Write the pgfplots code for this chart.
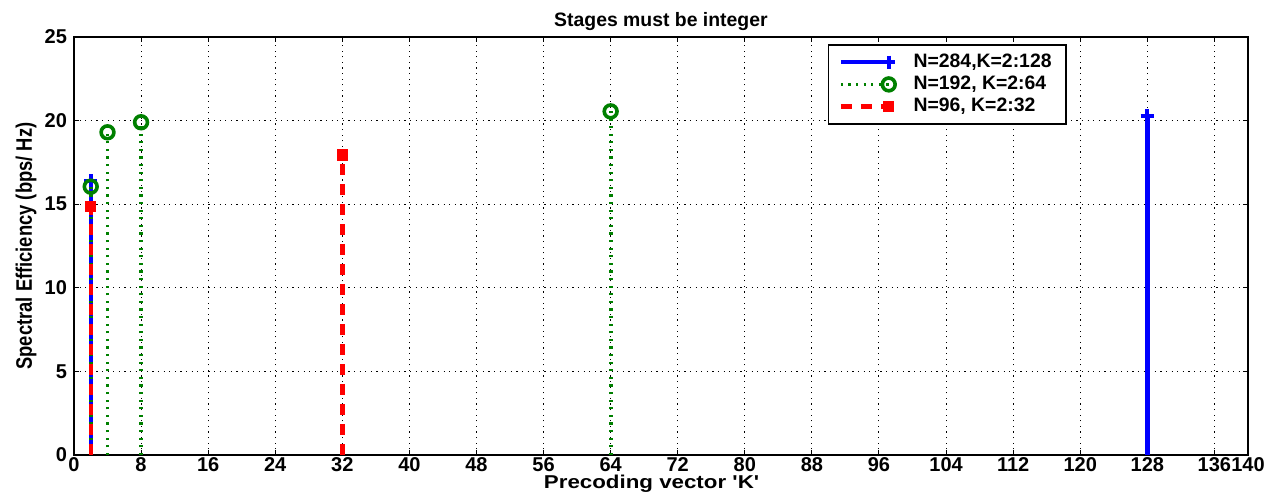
\documentclass[border=0pt]{standalone}
\usepackage{pgfplots}
\pgfplotsset{compat=1.18}
\usepackage{fontspec}
\setmainfont{Liberation Sans}
\definecolor{mblue}{RGB}{0,0,255}
\definecolor{mgreen}{RGB}{0,128,0}
\definecolor{mred}{RGB}{255,0,0}
\begin{document}
\begin{tikzpicture}
\begin{axis}[
  width=587pt, height=209pt, scale only axis,
  xmin=0, xmax=140, ymin=0, ymax=25,
  xtick={0,8,...,136,140}, ytick={0,5,...,25},
  tick align=inside, major tick length=2.5pt,
  tick style={black, line width=0.5pt},
  grid=major,
  grid style={black, line width=0.5pt, dash pattern=on 0.6pt off 2.2pt},
  axis line style={black, line width=0.8pt},
  ticklabel style={font=\fontsize{10}{11}\selectfont\bfseries},
  /pgf/number format/assume math mode=true,
  xticklabel style={yshift=2.5pt},
  title={Stages must be integer},
  title style={font=\fontsize{9.7}{11}\selectfont\bfseries, at={(axis description cs:0.5,1)}, anchor=base, yshift=-1pt},
  xlabel={\scalebox{1.2}[1]{Precoding vector \textquotesingle K\textquotesingle}},
  xlabel style={font=\fontsize{9.3}{11}\selectfont\bfseries, at={(axis description cs:0.492,0)}, anchor=base, yshift=-17pt},
  ylabel={\scalebox{0.82}[1]{Spectral Efficiency (bps/ Hz)}},
  ylabel style={font=\fontsize{11.2}{13}\selectfont\bfseries, at={(axis description cs:-0.0358,0.5)}, anchor=base},
  legend style={at={(axis description cs:0.642,0.983)}, anchor=north west,
    draw=black, line width=0.9pt, font=\fontsize{9.7}{11}\selectfont\bfseries,
    nodes={inner ysep=0.5pt},
    cells={anchor=west}, row sep=1.8pt, inner xsep=5pt, inner ysep=4pt},
  legend image code/.code={\draw[#1, sharp plot, mark indices={2}] plot coordinates {(0pt,0pt) (24pt,0pt)}; \path (33.3pt,0pt);},
  clip=false,
]
\addplot+[ycomb, color=mblue, line width=2.2pt, mark=+, mark size=3.3pt, mark options={solid, line width=2pt}]
  coordinates {(2,16.4) (128,20.3)};
\addlegendentry{N=284,K=2:128}
\addplot+[ycomb, color=mgreen, line width=1.9pt, dash pattern=on 1.1pt off 2.7pt, mark=o, mark size=3.2pt, mark options={solid, line width=1.8pt}]
  coordinates {(2,16.05) (4,19.3) (8,19.9) (64,20.55)};
\addlegendentry{N=192, K=2:64}
\addplot+[ycomb, color=mred, line width=2.2pt, dash pattern=on 5.5pt off 4.5pt, mark=square*, mark size=2.6pt, mark options={solid, line width=0.5pt}]
  coordinates {(2,14.85) (32,17.95)};
\addlegendentry{N=96, K=2:32}
\path (axis description cs:-0.0630,-0.0981) rectangle (axis description cs:1.0239,1.0885);
\end{axis}
\end{tikzpicture}
\end{document}
